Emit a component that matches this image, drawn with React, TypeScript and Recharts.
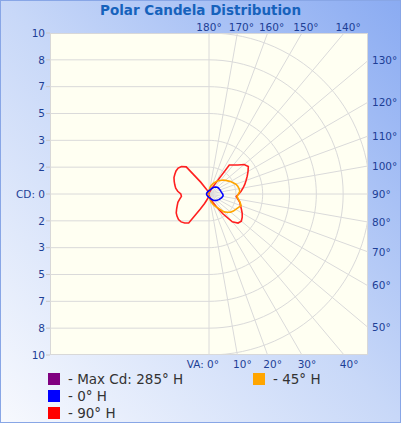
import React from 'react';
import { ScatterChart, Scatter, XAxis, YAxis } from 'recharts';

// vertical angles (0 = straight down, 90 = horizontal, 180 = straight up)
const VA = [0, 5, 10, 15, 20, 25, 30, 35, 40, 45, 50, 55, 60, 65, 70, 75, 80, 85, 90,
  95, 100, 105, 110, 115, 120, 125, 130, 135, 140, 145, 150, 155, 160, 165, 170, 175, 180];

// candela (scaled) per vertical angle, right half then left half of each plane
const CD_90H = [0.05, 0.1, 0.15, 0.25, 0.4, 0.6, 0.9, 1.5, 2.25, 2.55, 2.62, 2.52, 2.38, 2.22, 2.08, 1.98, 1.82, 1.7, 1.85,
  2.0, 2.15, 2.3, 2.45, 2.62, 2.8, 2.98, 2.85, 2.55, 2.35, 2.2, 0.6, 0.3, 0.18, 0.12, 0.08, 0.05, 0.04];
const CD_270H = [0.05, 0.1, 0.15, 0.25, 0.4, 0.65, 1.1, 2.2, 2.35, 2.45, 2.47, 2.42, 2.35, 2.22, 2.1, 2.0, 1.85, 1.72, 1.75,
  1.95, 2.1, 2.2, 2.3, 2.4, 2.45, 2.5, 2.5, 2.42, 2.2, 0.9, 0.4, 0.25, 0.15, 0.1, 0.08, 0.05, 0.04];
const CD_45H = [0.1, 0.2, 0.35, 0.5, 0.65, 0.8, 0.95, 1.15, 1.45, 1.6, 1.75, 1.85, 1.92, 2.0, 2.12, 2.0, 1.85, 1.75, 1.82,
  1.92, 1.9, 1.85, 1.78, 1.65, 1.55, 1.42, 1.32, 1.23, 1.1, 1.0, 0.88, 0.78, 0.65, 0.55, 0.45, 0.3, 0.15];
const CD_225H = [0.1, 0.1, 0.1, 0.1, 0.1, 0.1, 0.1, 0.1, 0.1, 0.1, 0.1, 0.1, 0.1, 0.1, 0.1, 0.1, 0.1, 0.1, 0.1,
  0.1, 0.1, 0.1, 0.1, 0.1, 0.1, 0.1, 0.1, 0.1, 0.1, 0.1, 0.1, 0.1, 0.1, 0.1, 0.1, 0.1, 0.1];
const CD_0H = [0.2, 0.22, 0.24, 0.27, 0.3, 0.36, 0.42, 0.47, 0.52, 0.57, 0.62, 0.66, 0.7, 0.74, 0.78, 0.83, 0.87, 0.88, 0.85,
  0.8, 0.77, 0.75, 0.73, 0.71, 0.7, 0.68, 0.66, 0.62, 0.56, 0.5, 0.43, 0.37, 0.31, 0.27, 0.24, 0.22, 0.2];
const CD_180H = [0.2, 0.19, 0.18, 0.17, 0.16, 0.16, 0.15, 0.15, 0.15, 0.15, 0.15, 0.15, 0.15, 0.15, 0.15, 0.15, 0.15, 0.15, 0.15,
  0.15, 0.15, 0.15, 0.15, 0.15, 0.15, 0.15, 0.15, 0.15, 0.15, 0.15, 0.15, 0.16, 0.16, 0.17, 0.18, 0.19, 0.2];

const CD_LABELS = ['10', '8', '7', '5', '3', '2', 'CD: 0', '2', '3', '5', '7', '8', '10'];
const TOP_ANGLES = [180, 170, 160, 150, 140];
const BOTTOM_ANGLES = [0, 10, 20, 30, 40];
const RIGHT_ANGLES = [130, 120, 110, 100, 90, 80, 70, 60, 50];

const LEGEND = [
  { label: '- Max Cd: 285° H', color: '#800080' },
  { label: '- 45° H', color: '#ffa500' },
  { label: '- 0° H', color: '#0000ff' },
  { label: '- 90° H', color: '#ff0000' },
];

const Y_MAX = 10;
const X_MAX = 10 * 159 / 161;
const STEP = Y_MAX / 6;
const rad = (d: number) => (d * Math.PI) / 180;

const loop = (right: number[], left: number[]) => {
  const pts = VA.map((a, i) => ({ x: right[i] * Math.sin(rad(a)), y: -right[i] * Math.cos(rad(a)) }));
  for (let i = VA.length - 1; i >= 0; i--) {
    const a = VA[i];
    pts.push({ x: -left[i] * Math.sin(rad(a)), y: -left[i] * Math.cos(rad(a)) });
  }
  pts.push(pts[0]);
  return pts;
};

// polar grid: arcs on the right, spokes every 10deg, flat lines on the left
const gridLines: { x: number; y: number }[][] = [];
for (let k = 1; k <= 6; k++) {
  const r = k * STEP;
  const arc = [];
  for (let a = 0; a <= 180; a += 3) arc.push({ x: Math.min(r * Math.sin(rad(a)), X_MAX), y: -r * Math.cos(rad(a)) });
  gridLines.push(arc);
}
for (let a = 10; a < 180; a += 10) {
  const s = Math.sin(rad(a));
  const c = Math.cos(rad(a));
  const t = Math.min(X_MAX / s, Math.abs(c) > 1e-9 ? Y_MAX / Math.abs(c) : Infinity);
  gridLines.push([{ x: 0, y: 0 }, { x: t * s, y: -t * c }]);
}
for (let i = 1; i < 12; i++) {
  const y = Y_MAX - i * STEP;
  gridLines.push([{ x: -X_MAX, y }, { x: 0, y }]);
}
gridLines.push([{ x: 0, y: -Y_MAX }, { x: 0, y: Y_MAX }]);

const TICK = '#1d3f96';
const FONT = '"DejaVu Sans", sans-serif';
const NoShape = () => <g />;

const LeftTick = (p: any) => (
  <text x={p.x} y={p.y} dy="0.35em" textAnchor="end" fill={TICK} fontSize={10.5} fontFamily={FONT}>
    {CD_LABELS[p.index]}
  </text>
);
const RightTick = (p: any) => (
  <text x={p.x} y={p.y} dy="0.35em" textAnchor="start" fill={TICK} fontSize={10.5} fontFamily={FONT}>
    {RIGHT_ANGLES[p.index]}°
  </text>
);
const TopTick = (p: any) => (
  <text x={p.index === 0 ? p.x : p.x + 4} y={p.y} textAnchor="middle" fill={TICK} fontSize={10.5} fontFamily={FONT}>
    {TOP_ANGLES[p.index]}°
  </text>
);
const BottomTick = (p: any) => (
  <text x={p.index === 0 ? p.x + 10 : p.x + 5} y={p.y} dy="0.75em" textAnchor={p.index === 0 ? 'end' : 'middle'}
    fill={TICK} fontSize={10.5} fontFamily={FONT}>
    {p.index === 0 ? 'VA: 0°' : `${BOTTOM_ANGLES[p.index]}°`}
  </text>
);

export default function App() {
  const red = loop(CD_90H, CD_270H);
  const orange = loop(CD_45H, CD_225H);
  const blue = loop(CD_0H, CD_180H);

  return (
    <div style={{
      position: 'absolute', left: 0, top: 0, width: 401, height: 423, overflow: 'hidden',
      background: 'linear-gradient(to top right, #f7f9fe 0%, #c8d8f8 50%, #8aabf2 100%)',
      boxShadow: 'inset 0 0 0 1px #88a6e6', fontFamily: FONT,
    }}>
      <div style={{ position: 'absolute', left: 0, width: 401, top: 2, textAlign: 'center', fontWeight: 'bold', fontSize: 13.5, color: '#1662bc' }}>
        Polar Candela Distribution
      </div>
      <div style={{ position: 'absolute', left: 50, top: 33, width: 318, height: 322, background: '#fffff2', boxSizing: 'border-box', border: '1px solid #d8d8d8' }} />
      <div style={{ position: 'absolute', left: 0, top: 0 }}>
        <ScatterChart width={401} height={423} margin={{ top: 0, right: 0, bottom: 48, left: 0 }}>
          <XAxis xAxisId="b" type="number" dataKey="x" domain={[-X_MAX, X_MAX]} allowDataOverflow interval={0}
            ticks={BOTTOM_ANGLES.map((a) => Y_MAX * Math.tan(rad(a)))} height={20}
            axisLine={false} tickLine={false} tickSize={0} tickMargin={5} tick={<BottomTick />} />
          <XAxis xAxisId="t" orientation="top" type="number" dataKey="x" domain={[-X_MAX, X_MAX]} allowDataOverflow interval={0}
            ticks={TOP_ANGLES.map((a) => Y_MAX * Math.tan(rad(180 - a)))} height={33}
            axisLine={false} tickLine={false} tickSize={0} tickMargin={2} tick={<TopTick />} />
          <YAxis yAxisId="l" type="number" dataKey="y" domain={[-Y_MAX, Y_MAX]} allowDataOverflow interval={0}
            ticks={CD_LABELS.map((_, i) => Y_MAX - i * STEP)} width={50}
            axisLine={false} tickLine={{ stroke: '#c8c8c8' }} tickSize={4} tickMargin={1} tick={<LeftTick />} />
          <YAxis yAxisId="r" orientation="right" type="number" dataKey="y" domain={[-Y_MAX, Y_MAX]} allowDataOverflow interval={0}
            ticks={RIGHT_ANGLES.map((a) => X_MAX * Math.tan(rad(a - 90)))} width={33}
            axisLine={false} tickLine={false} tickSize={0} tickMargin={4} tick={<RightTick />} />
          {gridLines.map((g, i) => (
            <Scatter key={`g${i}`} xAxisId="b" yAxisId="l" data={g} shape={NoShape} legendType="none"
              line={{ stroke: '#dadada', strokeWidth: 1 }} isAnimationActive={false} />
          ))}
          <Scatter name="90° H" xAxisId="b" yAxisId="l" data={red} shape={NoShape}
            line={{ stroke: '#ff2020', strokeWidth: 1.6 }} isAnimationActive={false} />
          <Scatter name="45° H" xAxisId="b" yAxisId="l" data={orange} shape={NoShape}
            line={{ stroke: '#ffa500', strokeWidth: 1.6 }} isAnimationActive={false} />
          <Scatter name="0° H" xAxisId="b" yAxisId="l" data={blue} shape={NoShape}
            line={{ stroke: '#0000ff', strokeWidth: 1.6 }} isAnimationActive={false} />
        </ScatterChart>
      </div>
      {LEGEND.map((l, i) => {
        const pos = [[48, 373], [253, 373], [48, 390], [48, 407]][i];
        return (
          <div key={l.label} style={{ position: 'absolute', left: pos[0], top: pos[1], display: 'flex', alignItems: 'center', height: 12 }}>
            <span style={{ width: 12, height: 12, background: l.color, display: 'inline-block' }} />
            <span style={{ marginLeft: 8, fontSize: 13.5, color: '#333', whiteSpace: 'nowrap' }}>{l.label}</span>
          </div>
        );
      })}
    </div>
  );
}
